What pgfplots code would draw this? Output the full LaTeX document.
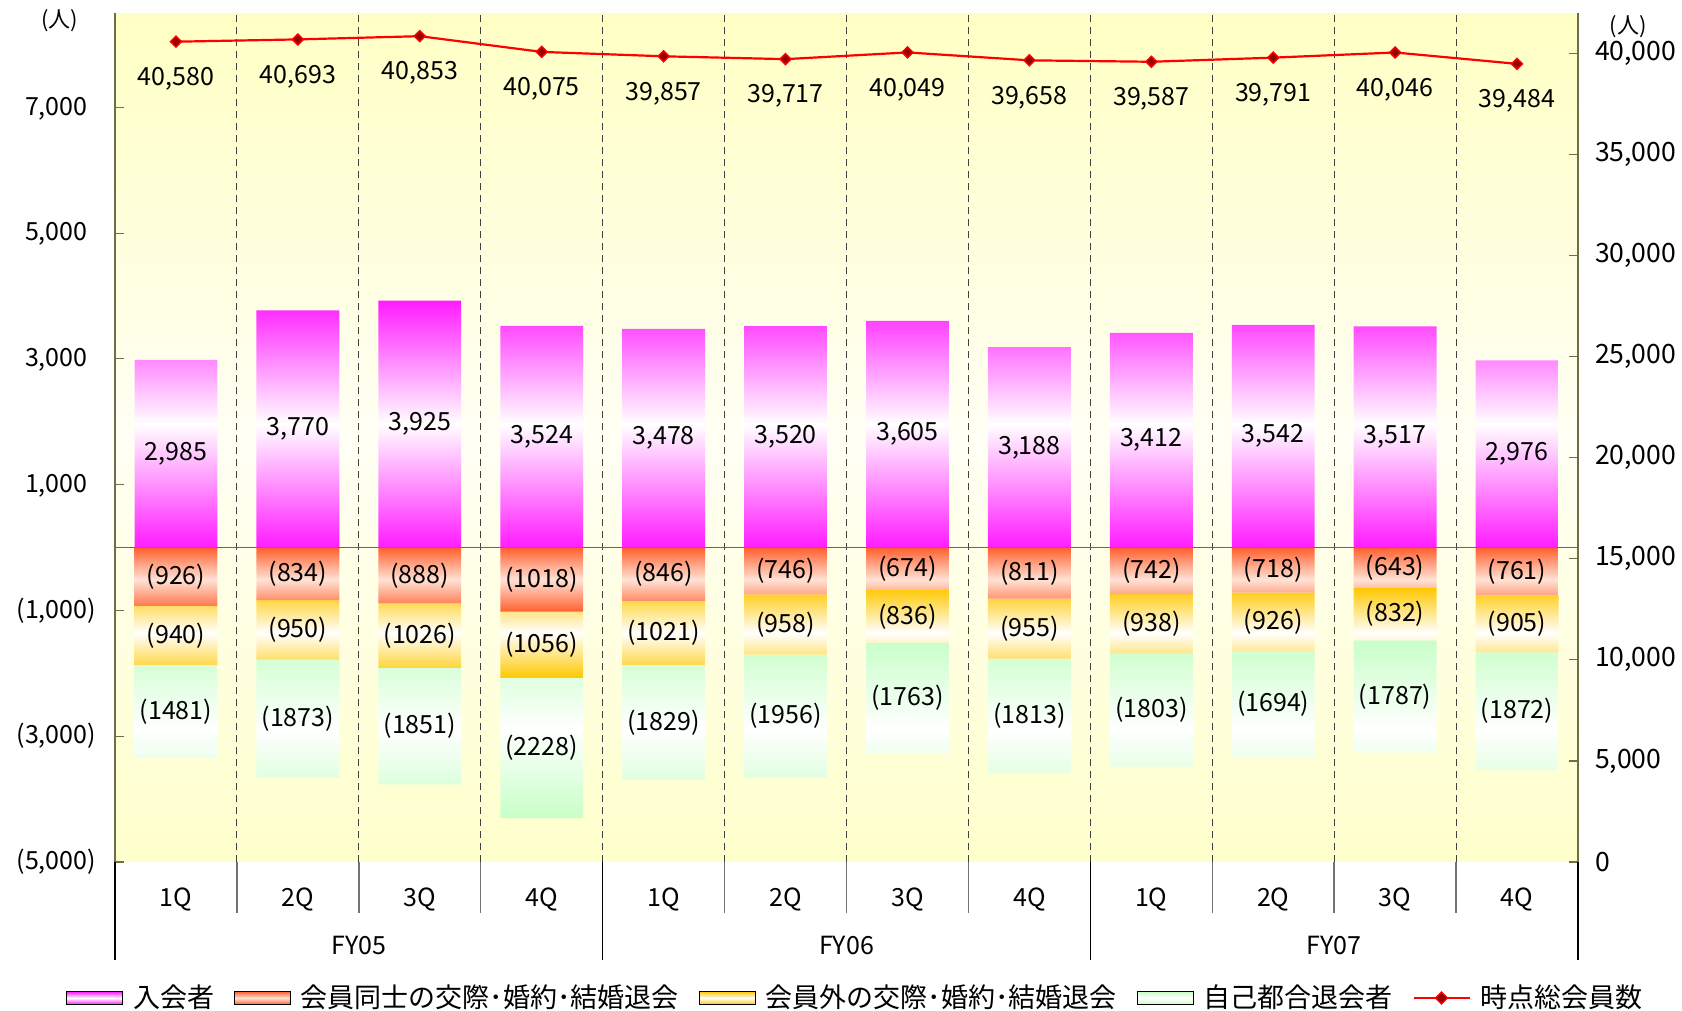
\documentclass[border=0pt]{standalone}
\usepackage{fontspec}
\setmainfont{Noto Sans CJK JP}
\usepackage{pgfplots}
\usepackage{pgfplotstable}
\pgfplotsset{compat=1.18}

\definecolor{mag}{HTML}{FF1CFF}
\definecolor{orng}{HTML}{FF6030}
\definecolor{orngl}{HTML}{FFE2D4}
\definecolor{yel}{HTML}{FFC800}
\definecolor{grn}{HTML}{C8FFC8}
\definecolor{bgtop}{HTML}{FFFFC4}
\definecolor{bgmid}{HTML}{FFFFF4}
\definecolor{bgbot}{HTML}{FFFFCC}
\definecolor{axcol}{HTML}{6E6E46}

\pgfplotstableread{
x join mem ext self total
0 2985 -926 -940 -1481 40580
1 3770 -834 -950 -1873 40693
2 3925 -888 -1026 -1851 40853
3 3524 -1018 -1056 -2228 40075
4 3478 -846 -1021 -1829 39857
5 3520 -746 -958 -1956 39717
6 3605 -674 -836 -1763 40049
7 3188 -811 -955 -1813 39658
8 3412 -742 -938 -1803 39587
9 3542 -718 -926 -1694 39791
10 3517 -643 -832 -1787 40046
11 2976 -761 -905 -1872 39484
}\data

\newcommand{\lfont}{\fontsize{12.5}{14}\selectfont}

\pgfplotsset{
 base/.style={scale only axis, width=731.5pt, height=424.5pt, xmin=-0.5, xmax=11.5, clip=false},
 poslab/.style={
   visualization depends on={-0.5*\thisrow{#1} \as \halfv},
   point meta={\thisrow{#1}},
   nodes near coords={\pgfmathprintnumber[fixed,precision=0,1000 sep={,},assume math mode=true]{\pgfplotspointmeta}},
   every node near coord/.append style={anchor=center, shift={(axis direction cs:0,\halfv)}, text=black, font=\lfont},
 },
 neglab/.style={
   point meta={-\thisrow{#1}},
   nodes near coords={(\pgfmathprintnumber[fixed,precision=0,1000 sep={},assume math mode=true]{\pgfplotspointmeta})},
   every node near coord/.append style={anchor=center, text=black, font=\lfont},
 },
}

\begin{document}
\begin{tikzpicture}
\path[use as bounding box] (-57.5pt,-74.5pt) rectangle (783.5pt,431pt);

% ---- main axis: background, left ticks, positive bars
\begin{axis}[base, ymin=-5000, ymax=8500,
  axis line style={draw=none},
  axis background/.style={top color=bgtop, bottom color=bgbot, middle color=bgmid},
  ytick={-5000,-3000,-1000,1000,3000,5000,7000},
  yticklabels={{(5,000)},{(3,000)},{(1,000)},{1,000\phantom{)}},{3,000\phantom{)}},{5,000\phantom{)}},{7,000\phantom{)}}},
  ytick pos=left, tick align=inside, major tick length=4.5pt,
  y tick style={axcol, line width=0.6pt},
  yticklabel style={font=\lfont, xshift=-6pt},
  xtick={0,...,11},
  xticklabels={1Q,2Q,3Q,4Q,1Q,2Q,3Q,4Q,1Q,2Q,3Q,4Q},
  x tick style={draw=none},
  xticklabel style={anchor=center, yshift=-18.5pt, font=\lfont},
]
\pgfplotsinvokeforeach{0.5,1.5,2.5,3.5,4.5,5.5,6.5,7.5,8.5,9.5,10.5}{
  \draw[black!75, line width=0.5pt, dash pattern=on 3.5pt off 2.5pt] (axis cs:#1,-5000) -- (axis cs:#1,8500);
}
\pgfplotsinvokeforeach{0.5,1.5,2.5,4.5,5.5,6.5,8.5,9.5,10.5}{
  \draw[black!55, line width=0.7pt] (axis cs:#1,-5000) -- ([yshift=-25.5pt]axis cs:#1,-5000);
}
\pgfplotsinvokeforeach{3.5,7.5}{
  \draw[black, line width=0.6pt] (axis cs:#1,-5000) -- ([yshift=-49pt]axis cs:#1,-5000);
}
\draw[axcol, line width=0.8pt] (rel axis cs:0,1) -- (rel axis cs:0,0);
\draw[black, line width=0.6pt] (rel axis cs:0,0) -- ([yshift=-49pt]rel axis cs:0,0);
\addplot[ybar, bar width=0.68, draw=none, top color=mag, bottom color=mag, middle color=white, poslab=join]
  table[x=x, y=join] {\data};
\node[font=\fontsize{11}{12}\selectfont] at (rel axis cs:0,1) [xshift=-27.5pt, yshift=-4pt] {(人)};
\end{axis}

% ---- negative stacked bars
\begin{axis}[base, ymin=-5000, ymax=8500, hide axis, ybar stacked, bar width=0.68]
\addplot[draw=none, top color=orng, bottom color=orng, middle color=orngl, neglab=mem]
  table[x=x, y=mem] {\data};
\addplot[draw=none, top color=yel, bottom color=yel, middle color=white, neglab=ext]
  table[x=x, y=ext] {\data};
\addplot[draw=none, top color=grn, bottom color=grn, middle color=white, neglab=self]
  table[x=x, y=self] {\data};
\draw[black!60, line width=0.8pt] (axis cs:-0.5,0) -- (axis cs:11.5,0);
\node[font=\lfont] at (axis cs:1.5,-5000) [yshift=-42pt] {FY05};
\node[font=\lfont] at (axis cs:5.5,-5000) [yshift=-42pt] {FY06};
\node[font=\lfont] at (axis cs:9.5,-5000) [yshift=-42pt] {FY07};
\end{axis}

% ---- right axis: total members line + legend
\begin{axis}[base, ymin=0, ymax=42000,
  axis line style={draw=none},
  xtick=\empty,
  ytick={0,5000,10000,15000,20000,25000,30000,35000,40000},
  yticklabels={0,{5,000},{10,000},{15,000},{20,000},{25,000},{30,000},{35,000},{40,000}},
  ytick pos=right, tick align=inside, major tick length=4.5pt,
  y tick style={axcol, line width=0.6pt},
  yticklabel style={font=\fontsize{13.3}{15}\selectfont, xshift=5pt},
  legend columns=5,
  legend cell align=left,
  legend style={at={(0.5,0)}, anchor=center, yshift=-68pt, xshift=5pt, draw=none, fill=none,
    font=\fontsize{13.5}{16}\selectfont,
    /tikz/every odd column/.append style={column sep=3pt},
    /tikz/every even column/.append style={column sep=8pt}},
]
\draw[axcol, line width=0.8pt] (rel axis cs:1,1) -- (rel axis cs:1,0);
\draw[black, line width=0.6pt] (rel axis cs:1,0) -- ([yshift=-49pt]rel axis cs:1,0);
\node[font=\fontsize{11}{12}\selectfont] at (rel axis cs:1,1) [xshift=25pt, yshift=-7pt] {(人)};
\addlegendimage{legend image code/.code={\path[top color=mag, bottom color=mag, middle color=white] (0pt,-3.25pt) rectangle (28pt,3.25pt);}}
\addlegendentry{入会者}
\addlegendimage{legend image code/.code={\path[top color=orng, bottom color=orng, middle color=orngl] (0pt,-3.25pt) rectangle (28pt,3.25pt);}}
\addlegendentry{会員同士の交際･婚約･結婚退会}
\addlegendimage{legend image code/.code={\path[top color=yel, bottom color=yel, middle color=white] (0pt,-3.25pt) rectangle (28pt,3.25pt);}}
\addlegendentry{会員外の交際･婚約･結婚退会}
\addlegendimage{legend image code/.code={\path[top color=grn, bottom color=grn, middle color=white] (0pt,-3.25pt) rectangle (28pt,3.25pt);}}
\addlegendentry{自己都合退会者}
\addplot[red, line width=1.1pt, mark=square*, mark size=1.95pt,
  mark options={rotate=45, fill=red!60!black, draw=red, line width=0.7pt},
  point meta=y,
  nodes near coords={\pgfmathprintnumber[fixed,precision=0,1000 sep={,},assume math mode=true]{\pgfplotspointmeta}},
  every node near coord/.append style={anchor=center, yshift=-18.5pt, text=black, font=\lfont},
  legend image code/.code={\draw[red, line width=1.1pt] (0pt,0pt) -- (28pt,0pt);
     \draw[red, fill=red!60!black, line width=0.6pt] (14pt,3pt) -- (17pt,0pt) -- (14pt,-3pt) -- (11pt,0pt) -- cycle;},
] table[x=x, y=total] {\data};
\addlegendentry{時点総会員数}
\end{axis}
\end{tikzpicture}
\end{document}
